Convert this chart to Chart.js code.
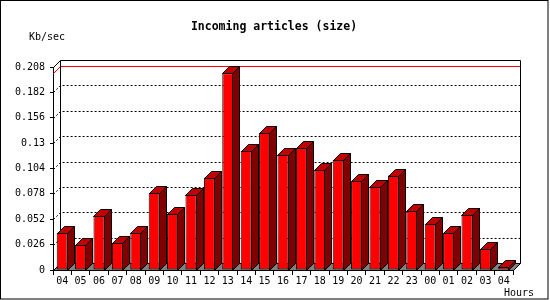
<!DOCTYPE html>
<html>
<head>
<meta charset="utf-8">
<script src="https://cdn.jsdelivr.net/npm/chart.js@4"></script>
<style>
  html, body { margin: 0; padding: 0; background: #fff; }
  #wrap { width: 550px; height: 300px; }
</style>
</head>
<body>
<div id="wrap"><canvas id="myChart" width="550" height="300"></canvas></div>
<script>
// data
const hours = ['04', '05', '06', '07', '08', '09', '10', '11', '12', '13', '14', '15', '16',
    '17', '18', '19', '20', '21', '22', '23', '00', '01', '02', '03', '04'];
const kbPerSec = [0.0381, 0.0258, 0.0555, 0.0278, 0.0381, 0.079, 0.0578, 0.0773, 0.0944,
    0.2015, 0.122, 0.1404, 0.1179, 0.1251, 0.1026, 0.1128, 0.0913, 0.0852, 0.0967,
    0.0606, 0.0473, 0.0381, 0.0565, 0.0217, 0.0033];
const yTicks = [0, 0.026, 0.052, 0.078, 0.104, 0.13, 0.156, 0.182, 0.208];

const titleText = 'Incoming articles (size)';
const unitText = 'Kb/sec';
const xText = 'Hours';

const depth = 7;
const mono = '"DejaVu Sans Mono", monospace';

function line(ctx, pts) {
    ctx.beginPath();
    ctx.moveTo(pts[0][0], pts[0][1]);
    for (let i = 1; i < pts.length; i++) ctx.lineTo(pts[i][0], pts[i][1]);
    ctx.stroke();
}

const box3d = {
    id: 'box3d',
    beforeDatasetsDraw(chart) {
        const ctx = chart.ctx;
        const a = chart.chartArea;
        const y = chart.scales.y;
        const L = Math.round(a.left) + 0.5, R = Math.round(a.right) + 0.5;
        const T = Math.round(a.top) + 0.5, B = Math.round(a.bottom) + 0.5;
        ctx.save();
        ctx.lineWidth = 1;

        // dotted grid on the back wall
        ctx.strokeStyle = '#000';
        ctx.setLineDash([2, 2]);
        yTicks.forEach(v => {
            if (v === 0 || v === yTicks[yTicks.length - 1]) return;
            const py = Math.round(y.getPixelForValue(v)) + 0.5;
            line(ctx, [[L, py], [L + depth, py - depth], [R + depth, py - depth]]);
        });
        ctx.setLineDash([]);

        // max line
        const my = Math.round(y.getPixelForValue(Math.max(...kbPerSec))) + 0.5;
        ctx.strokeStyle = '#ff0000';
        line(ctx, [[L, my], [L + depth, my - depth], [R + depth, my - depth]]);

        // walls
        ctx.strokeStyle = '#000';
        line(ctx, [[L, T], [L + depth, T - depth], [R + depth, T - depth], [R + depth, B - depth]]);
        line(ctx, [[L + depth, T - depth], [L + depth, B - depth]]);

        // floor
        ctx.fillStyle = '#808080';
        ctx.beginPath();
        ctx.moveTo(L, B);
        ctx.lineTo(R, B);
        ctx.lineTo(R + depth, B - depth);
        ctx.lineTo(L + depth, B - depth);
        ctx.closePath();
        ctx.fill();
        ctx.stroke();
        ctx.restore();
    },
    afterDatasetsDraw(chart) {
        const ctx = chart.ctx;
        const meta = chart.getDatasetMeta(0);
        ctx.save();
        ctx.lineWidth = 1;
        ctx.strokeStyle = '#000';
        meta.data.forEach(bar => {
            const p = bar.getProps(['x', 'y', 'base', 'width'], true);
            const x1 = Math.round(p.x - p.width / 2) + 0.5;
            const x2 = Math.round(p.x + p.width / 2) - 0.5;
            const yt = Math.round(p.y) + 0.5;
            const yb = Math.round(p.base) + 0.5;
            // side
            ctx.fillStyle = '#800000';
            ctx.beginPath();
            ctx.moveTo(x2, yt);
            ctx.lineTo(x2 + depth, yt - depth);
            ctx.lineTo(x2 + depth, yb - depth);
            ctx.lineTo(x2, yb);
            ctx.closePath();
            ctx.fill();
            ctx.stroke();
            // top
            ctx.fillStyle = '#c00000';
            ctx.beginPath();
            ctx.moveTo(x1, yt);
            ctx.lineTo(x1 + depth, yt - depth);
            ctx.lineTo(x2 + depth, yt - depth);
            ctx.lineTo(x2, yt);
            ctx.closePath();
            ctx.fill();
            ctx.stroke();
        });
        ctx.restore();
    },
    afterDraw(chart) {
        const ctx = chart.ctx;
        ctx.save();
        ctx.fillStyle = '#000';
        ctx.textBaseline = 'middle';
        ctx.font = 'bold 11.5px ' + mono;
        ctx.textAlign = 'center';
        ctx.fillText(titleText, 274, 27);
        ctx.font = '10px ' + mono;
        ctx.textAlign = 'left';
        ctx.fillText(unitText, 29, 37);
        ctx.fillText(xText, 504, 293);
        // frame
        ctx.strokeStyle = '#000';
        ctx.lineWidth = 1;
        ctx.strokeRect(0.5, 0.5, 547.5, 298.5);
        ctx.restore();
    }
};

const data = {
    labels: hours,
    datasets: [{
        label: unitText,
        data: kbPerSec,
        backgroundColor: '#ff0000',
        borderColor: '#000',
        borderWidth: 1,
        borderSkipped: false,
        categoryPercentage: 1,
        barPercentage: 0.6
    }]
};

const config = {
    type: 'bar',
    data: data,
    options: {
        responsive: false,
        animation: false,
        layout: { padding: { left: 0, right: 37, top: 67, bottom: 0 } },
        plugins: {
            legend: { display: false },
            title: { display: false },
            tooltip: { enabled: false }
        },
        scales: {
            x: {
                offset: true,
                grid: { offset: true, drawOnChartArea: false, drawTicks: true, tickLength: 5, color: '#000' },
                border: { display: true, color: '#000', width: 1 },
                ticks: { color: '#000', font: { family: mono, size: 10 }, padding: 0, maxRotation: 0, autoSkip: false },
                afterFit: scale => { scale.height = 30; }
            },
            y: {
                min: 0,
                max: 0.208,
                afterBuildTicks: scale => { scale.ticks = yTicks.map(v => ({ value: v })); },
                grid: { drawOnChartArea: false, drawTicks: true, tickLength: 3, color: '#000' },
                border: { display: true, color: '#000', width: 1 },
                ticks: {
                    color: '#000',
                    font: { family: mono, size: 10 },
                    padding: 5,
                    callback: v => String(Number(v.toFixed(3)))
                },
                afterFit: scale => { scale.width = 53; }
            }
        }
    },
    plugins: [box3d]
};

const myChart = new Chart(document.getElementById('myChart'), config);
</script>
</body>
</html>
